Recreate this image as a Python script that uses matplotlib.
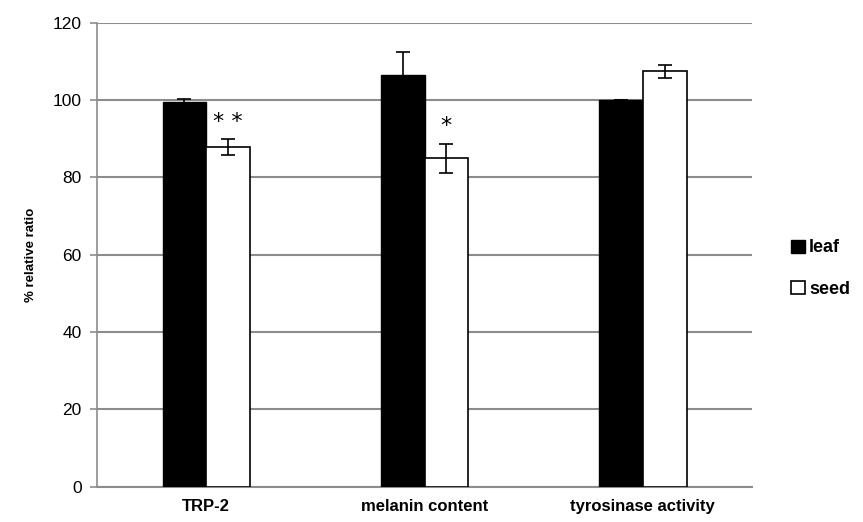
import matplotlib
matplotlib.use("Agg")
import matplotlib.pyplot as plt
import numpy as np

categories = ["TRP-2", "melanin content", "tyrosinase activity"]
leaf = [99.5, 106.5, 100.0]
leaf_err = [0.7, 5.8, 0.0]
seed = [87.8, 84.9, 107.4]
seed_err = [2.0, 3.8, 1.6]
marks = ["* *", "*", ""]

plt.rcParams['font.family'] = ['Liberation Sans', 'DejaVu Sans']

fig = plt.figure(figsize=(8.63, 5.22), dpi=100)
ax = fig.add_axes([0.1124, 0.0676, 0.759, 0.889])

x = np.arange(len(categories))
w = 0.2
grid_c = "#8c8c8c"

ax.bar(x - w/2, leaf, w, color="black", edgecolor="black", linewidth=1,
       yerr=leaf_err, error_kw=dict(ecolor="black", elinewidth=1.2, capsize=5, capthick=1.2),
       label="leaf", zorder=3)
ax.bar(x + w/2, seed, w, color="white", edgecolor="black", linewidth=1.2,
       yerr=seed_err, error_kw=dict(ecolor="black", elinewidth=1.2, capsize=5, capthick=1.2),
       label="seed", zorder=3)

for xi, v, e, m in zip(x, seed, seed_err, marks):
    if m:
        ax.text(xi + w/2, v + e + 4.5, m, ha="center", va="center", fontsize=16,
                family="DejaVu Sans", zorder=4)

ax.set_xlim(-0.5, 2.5)
ax.set_ylim(0, 120)
ax.set_yticks(range(0, 121, 20))
ax.yaxis.grid(True, color=grid_c, linewidth=1.5, zorder=0)
ax.set_axisbelow(True)

for s in ["top", "right"]:
    ax.spines[s].set_visible(False)
ax.spines["left"].set_color(grid_c)
ax.spines["left"].set_linewidth(1.2)
ax.spines["bottom"].set_color(grid_c)
ax.spines["bottom"].set_linewidth(1.5)

ax.set_xticks(x)
ax.set_xticklabels(categories, fontsize=12, fontweight="bold")
ax.tick_params(axis="x", length=0, pad=9)
ax.tick_params(axis="y", length=5, color=grid_c, width=1.2, labelsize=12.5, pad=6)
ax.set_ylabel("% relative ratio", fontsize=9.5, fontweight="bold", labelpad=11)

ax.legend(loc="center left", bbox_to_anchor=(1.035, 0.47), frameon=False,
          prop=dict(size=13, weight="bold"), handlelength=0.75, handleheight=0.75,
          handletextpad=0.25, labelspacing=1.35)

fig.savefig("out.png", dpi=100)
